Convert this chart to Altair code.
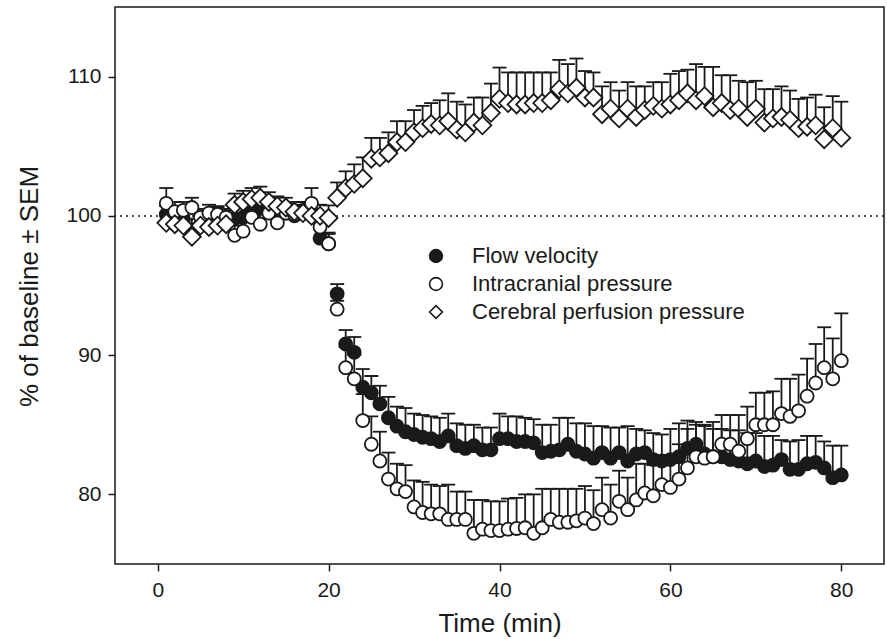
import altair as alt
import pandas as pd

minutes = list(range(1, 81))
series_names = ["Flow velocity", "Intracranial pressure", "Cerebral perfusion pressure"]

fv = [100.1, 100.0, 99.7, 99.0, 99.3, 99.8, 100.0, 99.7, 99.8, 99.9,
      100.3, 100.6, 100.6, 100.3, 100.2, 100.0, 100.4, 100.3, 98.4, 98.0,
      94.4, 90.8, 90.2, 87.7, 87.3, 86.5, 85.5, 84.9, 84.5, 84.3,
      84.1, 84.0, 83.8, 84.2, 83.5, 83.3, 83.5, 83.2, 83.2, 84.0,
      84.0, 83.8, 83.8, 83.7, 83.0, 83.1, 83.2, 83.6, 83.1, 82.9,
      82.6, 83.0, 82.6, 83.0, 82.4, 82.9, 83.0, 82.5, 82.4, 82.5,
      82.7, 83.3, 83.6, 82.9, 82.7, 82.7, 82.5, 82.4, 82.2, 82.4,
      82.0, 82.1, 82.5, 81.8, 81.8, 82.2, 82.3, 81.9, 81.2, 81.4]
fv_sem = [0.6, 0.7, 0.6, 0.8, 0.7, 0.7, 0.6, 0.7, 0.8, 0.9,
          0.8, 0.8, 0.7, 0.7, 0.7, 0.6, 0.6, 0.6, 0.9, 0.8,
          0.7, 1.0, 1.1, 1.3, 1.2, 1.3, 1.5, 1.4, 1.7, 1.5,
          1.6, 1.6, 1.7, 1.6, 1.6, 1.7, 1.5, 1.6, 1.6, 1.8,
          1.6, 1.8, 1.7, 1.7, 2.0, 1.9, 2.3, 1.9, 2.0, 2.2,
          2.3, 1.9, 2.2, 1.8, 2.5, 1.8, 1.6, 1.9, 1.9, 2.2,
          2.4, 2.0, 1.4, 2.0, 2.0, 2.0, 2.1, 2.2, 2.2, 2.0,
          2.2, 2.1, 1.4, 2.0, 2.1, 2.0, 1.9, 1.9, 2.3, 2.1]

icp = [100.9, 100.3, 100.4, 100.6, 99.9, 100.2, 100.1, 99.9, 98.6, 98.9,
       99.9, 99.4, 100.2, 99.5, 100.2, 100.1, 100.2, 100.9, 99.2, 98.0,
       93.3, 89.1, 88.3, 85.3, 83.6, 82.4, 81.1, 80.4, 80.2, 79.1,
       78.7, 78.6, 78.6, 78.2, 78.2, 78.2, 77.2, 77.5, 77.4, 77.4,
       77.5, 77.55, 77.6, 77.2, 77.6, 78.2, 78.0, 78.0, 78.1, 78.3,
       77.9, 78.9, 78.3, 79.5, 78.9, 79.6, 80.1, 79.9, 80.7, 80.5,
       81.1, 81.9, 82.7, 82.6, 82.7, 83.6, 83.6, 83.1, 84.0, 85.0,
       85.0, 85.0, 85.8, 85.6, 86.0, 87.05, 88.0, 89.1, 88.3, 89.6]
icp_sem = [1.1, 0.7, 0.6, 0.7, 0.6, 0.6, 0.6, 0.6, 0.7, 0.8,
           0.7, 0.7, 0.7, 0.6, 0.7, 0.6, 0.6, 1.1, 0.8, 0.7,
           0.6, 1.5, 1.7, 1.9, 2.0, 2.1, 1.9, 1.8, 1.9, 1.9,
           2.2, 2.1, 2.0, 2.5, 2.0, 2.0, 2.4, 2.1, 2.1, 2.1,
           2.2, 2.2, 2.4, 2.8, 2.8, 2.2, 2.4, 2.4, 2.3, 2.3,
           2.4, 2.3, 2.4, 2.2, 2.3, 2.6, 2.1, 2.2, 1.8, 2.3,
           2.5, 2.8, 2.5, 2.4, 2.5, 2.1, 2.1, 2.6, 2.3, 2.3,
           2.3, 2.4, 2.5, 2.7, 2.6, 2.7, 2.8, 2.9, 2.9, 3.4]

cpp = [99.5, 99.4, 99.3, 98.5, 99.3, 99.2, 99.3, 99.4, 100.8, 101.0,
       101.2, 101.3, 101.0, 100.7, 100.6, 100.3, 100.2, 100.0, 100.0, 99.85,
       101.3, 102.0, 102.3, 102.7, 104.1, 104.2, 104.5, 105.3, 105.3, 106.0,
       106.3, 106.6, 106.5, 106.8, 106.2, 106.0, 106.7, 106.5, 107.4, 108.4,
       108.1, 108.0, 108.0, 108.1, 108.1, 108.3, 109.1, 108.8, 109.2, 108.5,
       108.5, 107.3, 107.7, 107.0, 107.7, 107.1, 107.6, 107.9, 107.7, 108.0,
       108.3, 108.8, 108.3, 108.6, 107.8, 108.1, 107.6, 107.7, 107.1, 107.7,
       106.7, 107.0, 107.1, 106.9, 106.3, 106.4, 106.5, 105.5, 106.3, 105.6]
cpp_sem = [0.7, 0.7, 0.7, 0.8, 0.7, 0.7, 0.7, 0.7, 0.8, 0.8,
           0.8, 0.8, 0.7, 0.7, 0.7, 0.7, 0.8, 0.8, 0.8, 0.9,
           1.1, 1.2, 1.4, 1.5, 1.5, 1.4, 1.5, 1.5, 1.5, 1.6,
           1.6, 1.5, 1.8, 2.0, 2.0, 2.0, 1.8, 2.0, 2.1, 2.25,
           2.2, 2.3, 2.3, 2.2, 2.2, 2.0, 2.1, 2.1, 2.1, 1.9,
           1.8, 2.0, 1.9, 2.0, 1.9, 2.2, 1.7, 1.7, 1.9, 2.2,
           2.1, 1.7, 2.6, 2.1, 2.9, 2.0, 2.5, 2.0, 2.5, 2.0,
           2.4, 2.1, 2.2, 2.1, 2.1, 2.1, 2.2, 2.3, 2.3, 2.6]

x_ticks = [0, 20, 40, 60, 80]
y_ticks = [80, 90, 100, 110]
baseline = [100]

rows = []
for name, vals, sems in zip(series_names, [fv, icp, cpp], [fv_sem, icp_sem, cpp_sem]):
    for t, v, s in zip(minutes, vals, sems):
        rows.append({"series": name, "time": t, "value": v, "upper": round(v + s, 3)})
df = pd.DataFrame(rows)

INK = "#1a1a1a"
FONT = "Liberation Sans"

x_scale = alt.Scale(domain=[-5, 85], nice=False, zero=False)
y_scale = alt.Scale(domain=[75, 115], nice=False, zero=False)
x_axis = alt.Axis(values=x_ticks, title="Time (min)", labelPadding=8,
                  titleY=67, titleBaseline="alphabetic")
y_axis = alt.Axis(values=y_ticks, title="% of baseline ± SEM", labelPadding=7,
                  titleX=-78, titleY=279, titleBaseline="alphabetic", titleAlign="center")

X = alt.X("time:Q", scale=x_scale, axis=x_axis)

ref = alt.Chart(pd.DataFrame({"ref": baseline})).mark_rule(
    color=INK, strokeWidth=1.5, strokeDash=[2, 4]
).encode(y=alt.Y("ref:Q", scale=y_scale, axis=y_axis))

bars = alt.Chart(df).mark_rule(color=INK, strokeWidth=1.8).encode(
    x=X,
    y=alt.Y("value:Q", scale=y_scale, axis=y_axis),
    y2="upper:Q",
)

caps = alt.Chart(df).mark_tick(orient="horizontal", size=14, thickness=1.8, color=INK, opacity=1).encode(
    x=X,
    y=alt.Y("upper:Q", scale=y_scale, axis=y_axis),
)

fill_scale = alt.Scale(domain=series_names, range=[INK, "white", "white"])
stroke_scale = alt.Scale(domain=series_names, range=[INK, INK, INK])
shape_scale = alt.Scale(domain=series_names, range=["circle", "circle", "diamond"])

legend = alt.Legend(title=None, labelLimit=0)

enc = dict(
    x=X,
    y=alt.Y("value:Q", scale=y_scale, axis=y_axis),
    fill=alt.Fill("series:N", scale=fill_scale, legend=legend),
    stroke=alt.Stroke("series:N", scale=stroke_scale, legend=legend),
    shape=alt.Shape("series:N", scale=shape_scale, legend=legend),
)

circles = alt.Chart(df).transform_filter(
    alt.datum.series != "Cerebral perfusion pressure"
).mark_point(filled=True, strokeWidth=1.8, opacity=1, size=170).encode(**enc)

diamonds = alt.Chart(df).transform_filter(
    alt.datum.series == "Cerebral perfusion pressure"
).mark_point(filled=True, strokeWidth=1.8, opacity=1, size=320).encode(**enc)

chart = alt.layer(ref, bars, caps, circles, diamonds).properties(
    width=769, height=557,
    autosize=alt.AutoSizeParams(type="none"),
    padding={"left": 115, "top": 7, "right": 3, "bottom": 75},
    background="white",
).configure_view(
    stroke=INK, strokeWidth=1.5
).configure_axis(
    domain=False, grid=False, ticks=True, tickColor=INK, tickSize=7, tickWidth=1.5,
    labelFont=FONT, labelFontSize=21, labelColor=INK,
    titleFont=FONT, titleFontSize=26, titleFontWeight="normal", titleColor=INK,
).configure_legend(
    orient="none", legendX=310, legendY=238, padding=0,
    labelFontSize=22, labelFont=FONT, labelColor=INK,
    symbolSize=165, symbolStrokeWidth=1.6,
    labelOffset=25, rowPadding=6,
)

chart.save("out.html", embed_options={"renderer": "svg", "actions": False})
